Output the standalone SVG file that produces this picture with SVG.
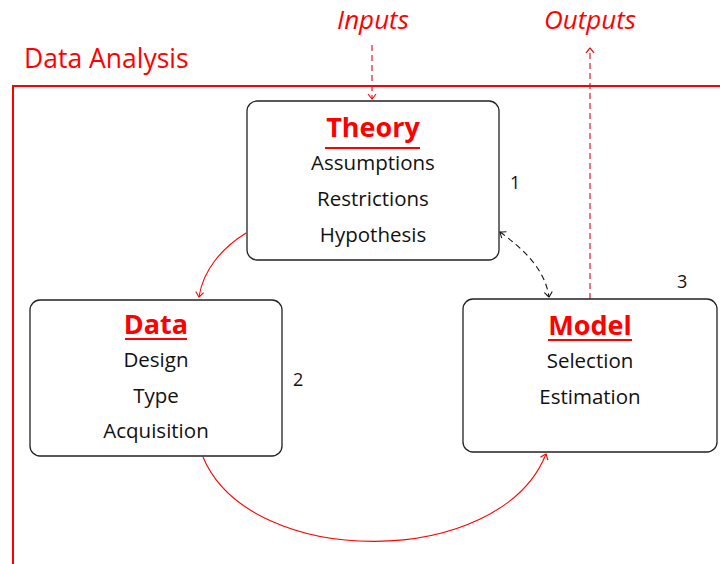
<svg xmlns="http://www.w3.org/2000/svg" width="720" height="564" viewBox="0 0 720 564">
<style>
text{font-family:"Open Sans",Lato,"Liberation Sans",sans-serif;}
.box{fill:#fff;stroke:#222;stroke-width:1.3;}
.title{font-size:27px;font-weight:bold;fill:#ff0000;text-anchor:middle;}
.item{font-size:20.5px;fill:#111;text-anchor:middle;}
.num{font-size:18px;fill:#111;}
.ul{stroke:#ff0000;stroke-width:2;}
.red{fill:none;stroke:#ff0000;stroke-width:1.1;}
.reddash{fill:none;stroke:#e0001a;stroke-width:1.1;stroke-dasharray:6 4;}
.blkdash{fill:none;stroke:#111;stroke-width:1.1;stroke-dasharray:6 4;}
.io{font-size:26px;font-style:italic;fill:#ff0000;text-anchor:middle;}
</style>
<defs>
<marker id="ar" markerUnits="userSpaceOnUse" markerWidth="14" markerHeight="14" viewBox="-8 -7 10 14" refX="0" refY="0" orient="auto">
<path d="M-5,-4 Q-1,-1 0,0 Q-1,1 -5,4" fill="none" stroke="#ff0000" stroke-width="1.1"/>
</marker>
<marker id="ab" markerUnits="userSpaceOnUse" markerWidth="14" markerHeight="14" viewBox="-8 -7 10 14" refX="0" refY="0" orient="auto-start-reverse">
<path d="M-5,-4 Q-1,-1 0,0 Q-1,1 -5,4" fill="none" stroke="#111" stroke-width="1.1"/>
</marker>
</defs>
<rect width="720" height="564" fill="#fff"/>
<g id="frame">
<path d="M13,564 V86 H720" fill="none" stroke="#ff0000" stroke-width="2"/>
<text x="24" y="68" font-size="26.5" fill="#ff0000">Data Analysis</text>
</g>
<g id="connectors">
<path class="reddash" d="M372,45 V99" marker-end="url(#ar)"/>
<path class="reddash" d="M590,299 V48" marker-end="url(#ar)"/>
<path class="red" d="M246,233 C222,248 203,270 199,297" marker-end="url(#ar)"/>
<path class="blkdash" d="M500,232 C525,250 545,270 549,297" marker-start="url(#ab)" marker-end="url(#ab)"/>
<path class="red" d="M203,457 C250,570 500,570 546,454" marker-end="url(#ar)"/>
</g>
<g id="inputs"><text class="io" x="373" y="29">Inputs</text></g>
<g id="outputs"><text class="io" x="590" y="29">Outputs</text></g>
<g id="theory">
<rect class="box" x="247" y="101" width="252" height="159" rx="10"/>
<text class="title" x="373" y="137">Theory</text>
<line class="ul" x1="325" y1="148" x2="420" y2="148"/>
<text class="item" x="373" y="170">Assumptions</text>
<text class="item" x="373" y="206">Restrictions</text>
<text class="item" x="373" y="242">Hypothesis</text>
<text class="num" x="510" y="189">1</text>
</g>
<g id="data">
<rect class="box" x="30" y="300" width="252" height="156" rx="10"/>
<text class="title" x="156" y="334">Data</text>
<line class="ul" x1="125" y1="339" x2="187" y2="339"/>
<text class="item" x="156" y="367">Design</text>
<text class="item" x="156" y="403">Type</text>
<text class="item" x="156" y="438">Acquisition</text>
<text class="num" x="293" y="386">2</text>
</g>
<g id="model">
<rect class="box" x="463" y="299" width="254" height="153" rx="10"/>
<text class="title" x="590" y="335">Model</text>
<line class="ul" x1="548" y1="340" x2="632" y2="340"/>
<text class="item" x="590" y="368">Selection</text>
<text class="item" x="590" y="404">Estimation</text>
<text class="num" x="677" y="288">3</text>
</g>
</svg>
